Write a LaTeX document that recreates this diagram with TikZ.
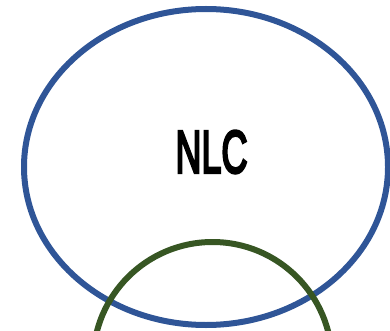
\documentclass[tikz,border=0pt]{standalone}
\usepackage{fontspec}
\newfontfamily\impactish[FakeBold=5]{Liberation Sans}
\definecolor{ellblue}{HTML}{2F5597}
\definecolor{circgreen}{HTML}{375623}
\begin{document}
\begin{tikzpicture}[x=1pt,y=-1pt,
  ring/.style={line width=6pt}]
\useasboundingbox (0,0) rectangle (390,331);
\begin{scope}
\clip (0,0) rectangle (390,331);
\draw[ring,ellblue] (206,167) ellipse [x radius=182, y radius=158];
\draw[ring,circgreen] (212.5,361.4) circle [radius=119.4];
\end{scope}
\node[inner sep=0pt] (nlc) at (211.5,152) {\scalebox{0.6}[1]{\impactish\fontsize{60}{60}\selectfont NLC}};
\end{tikzpicture}
\end{document}
